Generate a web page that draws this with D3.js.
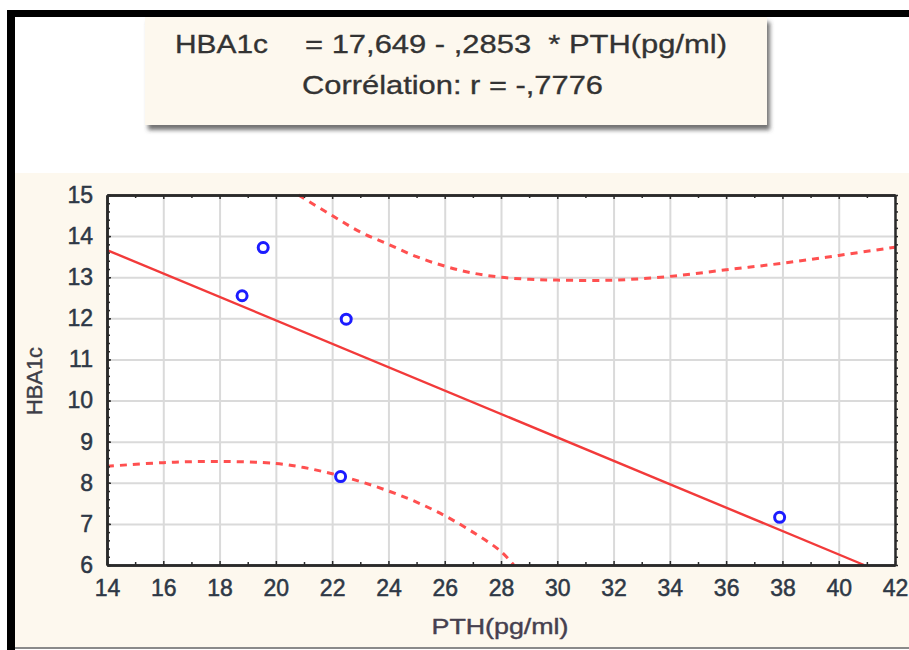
<!DOCTYPE html>
<html>
<head>
<meta charset="utf-8">
<script src="https://cdn.jsdelivr.net/npm/d3@7"></script>
<style>
  body { margin: 0; background: #fff; }
  svg { display: block; font-family: "Liberation Sans", Arial, sans-serif; }
  .grid line { stroke: #dadada; stroke-width: 2; }
  .grid path { display: none; }
  .tick-labels text { font-size: 23px; fill: #2e3846; stroke: #2e3846; stroke-width: 0.5; }
  .frame path { stroke: #2a2a2a; stroke-width: 2.5; }
  .frame line { stroke: #2a2a2a; stroke-width: 1.5; }
</style>
</head>
<body>
<div id="app"></div>
<script>
//======
// Data
//======

var pthValues = [18.8, 19.55, 22.5, 22.3, 37.9];
var hba1cValues = [12.55, 13.72, 11.98, 8.15, 7.16];

// fitted line, read at its two ends
var fitX = [14, 40.9];
var fitY = [13.66, 6.0];

// 95% band
var upperX = [20.8, 22, 23, 24, 25, 26, 27, 28, 29, 30, 32, 34, 36, 38, 40, 42];
var upperY = [15.0, 14.5, 14.1, 13.8, 13.5, 13.27, 13.1, 13.0, 12.95, 12.93, 12.93, 13.02, 13.18, 13.34, 13.53, 13.73];
var lowerX = [14, 16, 18, 20, 21, 22, 23, 24, 25, 26, 27, 28, 28.45];
var lowerY = [8.40, 8.49, 8.52, 8.47, 8.37, 8.22, 8.03, 7.80, 7.53, 7.2, 6.8, 6.33, 6.0];

var xTicks = [14, 16, 18, 20, 22, 24, 26, 28, 30, 32, 34, 36, 38, 40, 42];
var yTicks = [6, 7, 8, 9, 10, 11, 12, 13, 14, 15];

var xTitle = "PTH(pg/ml)";
var yTitle = "HBA1c";
var eqLeft = "HBA1c";
var eqRight = "= 17,649 - ,2853  * PTH(pg/ml)";
var corrText = "Corrélation: r = -,7776";

//=======
// Chart
//=======

function buildChart() {
  var width = 909,
    height = 650;

  var svg = d3.select("#app").append("svg")
    .attr("width", width)
    .attr("height", height);

  var defs = svg.append("defs");
  var shadow = defs.append("filter").attr("id", "shadow")
    .attr("x", "-5%").attr("y", "-10%").attr("width", "115%").attr("height", "130%");
  shadow.append("feDropShadow")
    .attr("dx", 3).attr("dy", 5).attr("stdDeviation", 2)
    .attr("flood-color", "#444").attr("flood-opacity", 0.75);

  // page frame
  svg.append("rect").attr("x", 15).attr("y", 173).attr("width", width - 15).attr("height", 474)
    .attr("fill", "#fdf8ee");
  svg.append("rect").attr("x", 15).attr("y", 647).attr("width", width - 15).attr("height", 2).attr("fill", "#8a8a8a");

  // equation box
  svg.append("rect").attr("x", 145).attr("y", 17).attr("width", 622).attr("height", 108)
    .attr("fill", "#fdf8ee").attr("filter", "url(#shadow)");
  svg.append("rect").attr("x", 7).attr("y", 10).attr("width", width - 7).attr("height", 7).attr("fill", "#000");
  svg.append("rect").attr("x", 7).attr("y", 10).attr("width", 8).attr("height", height - 10).attr("fill", "#000");

  var boxText = svg.append("g")
    .attr("font-size", 25).attr("fill", "#333")
    .attr("stroke", "#333").attr("stroke-width", 0.3);
  boxText.append("text").attr("x", 175).attr("y", 53)
    .attr("textLength", 93).attr("lengthAdjust", "spacingAndGlyphs")
    .text(eqLeft);
  boxText.append("text").attr("x", 305).attr("y", 53)
    .attr("textLength", 422).attr("lengthAdjust", "spacingAndGlyphs")
    .attr("xml:space", "preserve")
    .text(eqRight);
  boxText.append("text").attr("x", 302).attr("y", 94)
    .attr("textLength", 301).attr("lengthAdjust", "spacingAndGlyphs")
    .text(corrText);

  // plot area
  var plotLeft = 107, plotRight = 895, plotTop = 195, plotBottom = 565;

  var x = d3.scaleLinear().domain([14, 42]).range([plotLeft, plotRight]);
  var y = d3.scaleLinear().domain([6, 15]).range([plotBottom, plotTop]);

  svg.append("rect").attr("x", plotLeft).attr("y", plotTop)
    .attr("width", plotRight - plotLeft).attr("height", plotBottom - plotTop).attr("fill", "#fff");

  // grid
  svg.append("g").attr("class", "grid")
    .attr("transform", "translate(0," + plotBottom + ")")
    .call(d3.axisBottom(x).tickValues(xTicks).tickSize(-(plotBottom - plotTop)).tickFormat(""));
  svg.append("g").attr("class", "grid")
    .attr("transform", "translate(" + plotLeft + ",0)")
    .call(d3.axisLeft(y).tickValues(yTicks).tickSize(-(plotRight - plotLeft)).tickFormat(""));

  // confidence band
  var line = d3.line()
    .x(function(d) { return x(d[0]); })
    .y(function(d) { return y(d[1]); })
    .curve(d3.curveCatmullRom);

  var upper = upperX.map(function(v, i) { return [v, upperY[i]]; });
  var lower = lowerX.map(function(v, i) { return [v, lowerY[i]]; });
  var fit = fitX.map(function(v, i) { return [v, fitY[i]]; });

  [upper, lower].forEach(function(band) {
    svg.append("path").datum(band)
      .attr("d", line)
      .attr("fill", "none")
      .attr("stroke", "#ff5050")
      .attr("stroke-width", 3)
      .attr("stroke-dasharray", "7,6");
  });

  svg.append("path").datum(fit)
    .attr("d", d3.line().x(function(d) { return x(d[0]); }).y(function(d) { return y(d[1]); }))
    .attr("fill", "none")
    .attr("stroke", "#f23a3a")
    .attr("stroke-width", 2.4);

  // points
  svg.selectAll("circle.pt")
    .data(pthValues)
    .enter()
    .append("circle")
    .attr("class", "pt")
    .attr("cx", function(d) { return x(d); })
    .attr("cy", function(d, i) { return y(hba1cValues[i]); })
    .attr("r", 5)
    .attr("fill", "#fff")
    .attr("stroke", "#1c1cff")
    .attr("stroke-width", 3);

  // frame + ticks
  var xMinor = d3.range(15, 42, 2);
  var yMinor = d3.range(6, 15.01, 0.2);

  svg.append("g").attr("class", "frame")
    .attr("transform", "translate(0," + plotTop + ")")
    .call(d3.axisTop(x).tickValues(xTicks).tickSize(-4).tickSizeOuter(0).tickFormat(""));
  svg.append("g").attr("class", "frame")
    .attr("transform", "translate(0," + plotTop + ")")
    .call(d3.axisTop(x).tickValues(xMinor).tickSize(-3).tickSizeOuter(0).tickFormat(""));
  svg.append("g").attr("class", "frame")
    .attr("transform", "translate(" + plotRight + ",0)")
    .call(d3.axisRight(y).tickValues(yMinor).tickSize(3).tickSizeOuter(0).tickFormat(""));
  svg.append("g").attr("class", "frame")
    .attr("transform", "translate(" + plotLeft + ",0)")
    .call(d3.axisLeft(y).tickValues(yMinor).tickSize(-3).tickSizeOuter(0).tickFormat(""));
  svg.append("g").attr("class", "frame")
    .attr("transform", "translate(0," + plotBottom + ")")
    .call(d3.axisBottom(x).tickValues(xMinor).tickSize(-3).tickSizeOuter(0).tickFormat(""));

  svg.append("g").attr("class", "frame tick-labels")
    .attr("transform", "translate(0," + plotBottom + ")")
    .call(d3.axisBottom(x).tickValues(xTicks).tickSize(-4).tickSizeOuter(0).tickPadding(15));
  svg.append("g").attr("class", "frame tick-labels")
    .attr("transform", "translate(" + plotLeft + ",0)")
    .call(d3.axisLeft(y).tickValues(yTicks).tickSize(-4).tickSizeOuter(0).tickPadding(14));
  svg.selectAll(".tick-labels").attr("font-size", null).attr("font-family", null);

  // axis titles
  svg.append("text")
    .attr("x", 500).attr("y", 634)
    .attr("text-anchor", "middle")
    .attr("font-size", 22).attr("fill", "#46404f")
    .attr("stroke", "#46404f").attr("stroke-width", 0.4)
    .attr("textLength", 137).attr("lengthAdjust", "spacingAndGlyphs")
    .text(xTitle);
  svg.append("text")
    .attr("transform", "translate(42,381) rotate(-90)")
    .attr("text-anchor", "middle")
    .attr("font-size", 22).attr("fill", "#3e3e48")
    .attr("stroke", "#3e3e48").attr("stroke-width", 0.4)
    .attr("textLength", 68).attr("lengthAdjust", "spacingAndGlyphs")
    .text(yTitle);
}

buildChart();
</script>
</body>
</html>
